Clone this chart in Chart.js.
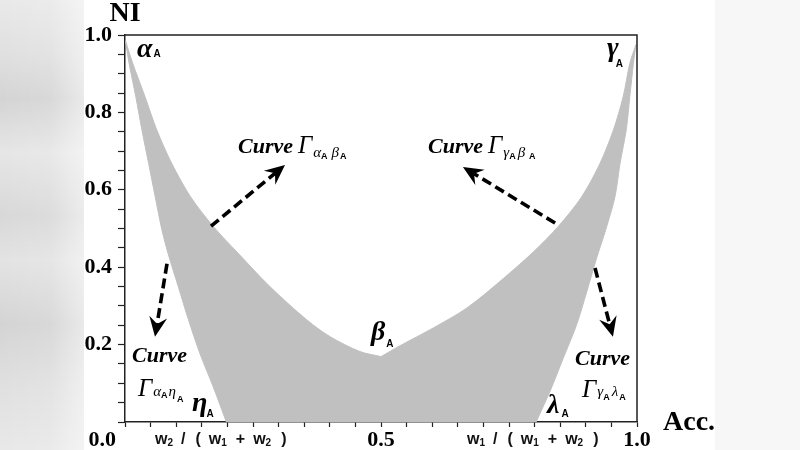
<!DOCTYPE html>
<html><head><meta charset="utf-8">
<script src="https://cdn.jsdelivr.net/npm/chart.js@4/dist/chart.umd.min.js"></script>
<style>
html,body{margin:0;padding:0;background:#fff;}
#wrap{position:relative;width:800px;height:450px;overflow:hidden;background:#fff;}
#bgL{position:absolute;left:0;top:0;width:84px;height:450px;
 background:linear-gradient(to right, rgba(255,255,255,0) 0%, rgba(255,255,255,0.1) 60%, rgba(255,255,255,0.5) 100%),
 linear-gradient(to bottom,#e9e9e9 0%,#e0e0e0 12%,#d4d4d4 22%,#e6e6e6 34%,#d8d8d8 48%,#e3e3e3 58%,#d4d4d4 72%,#e0e0e0 86%,#e8e8e8 100%);}
#bgR{position:absolute;left:715px;top:0;width:85px;height:450px;background:#f7f7f7;}
canvas{position:absolute;left:0;top:0;}
</style></head><body>
<div id="wrap"><div id="bgL"></div><div id="bgR"></div><canvas id="c" width="800" height="450"></canvas></div>
<script>
// ---- data ----
// Curve Γ(αA βA): upper-left boundary, from αA to βA
const gammaAlphaBetaAcc = [0.001, 0.015, 0.039, 0.062, 0.091, 0.128, 0.172, 0.221, 0.283, 0.355, 0.400, 0.459, 0.500];
const gammaAlphaBetaNI  = [0.985, 0.927, 0.841, 0.755, 0.669, 0.582, 0.506, 0.436, 0.350, 0.264, 0.221, 0.182, 0.169];
// Curve Γ(γA βA): upper-right boundary, from βA to γA
const gammaGammaBetaAcc = [0.500, 0.537, 0.602, 0.667, 0.732, 0.798, 0.846, 0.892, 0.928, 0.954, 0.973, 0.986, 0.998];
const gammaGammaBetaNI  = [0.169, 0.197, 0.243, 0.294, 0.363, 0.440, 0.505, 0.582, 0.669, 0.755, 0.841, 0.927, 0.975];
// Curve Γ(γA λA): lower-right boundary, from γA to λA
const gammaGammaLambdaAcc = [0.998, 0.993, 0.986, 0.979, 0.967, 0.957, 0.939, 0.921, 0.902, 0.882, 0.856, 0.830, 0.803];
const gammaGammaLambdaNI  = [0.975, 0.927, 0.841, 0.755, 0.669, 0.582, 0.497, 0.423, 0.337, 0.251, 0.165, 0.079, 0.000];
// Curve Γ(αA ηA): lower-left boundary, from αA to ηA
const gammaAlphaEtaAcc = [0.001, 0.008, 0.021, 0.033, 0.046, 0.059, 0.072, 0.084, 0.104, 0.124, 0.146, 0.172, 0.198];
const gammaAlphaEtaNI  = [0.985, 0.927, 0.841, 0.755, 0.669, 0.582, 0.497, 0.436, 0.350, 0.264, 0.178, 0.092, 0.000];
// tick labels
const xTickValues = [0.5, 1.0];
const xTickText   = ['0.5', '1.0'];
const yTickValues = [0.2, 0.4, 0.6, 0.8, 1.0];
const yTickText   = ['0.2', '0.4', '0.6', '0.8', '1.0'];
const cornerTickText = '0.0';
const yAxisTitle = 'NI';
const xAxisTitle = 'Acc.';

// ---- build closed region αA → βA → γA → λA → ηA → αA ----
// each curve keeps its own end points, so corners (βA, γA, λA, ηA) stay sharp under tension
function pts(xs, ys) { return xs.map((x, i) => ({x, y: ys[i]})); }
const lowerRight = pts(gammaGammaLambdaAcc, gammaGammaLambdaNI);
const lowerLeft = pts(gammaAlphaEtaAcc, gammaAlphaEtaNI).reverse();
const region = [
  ...pts(gammaAlphaBetaAcc, gammaAlphaBetaNI),
  ...pts(gammaGammaBetaAcc, gammaGammaBetaNI),
  ...lowerRight, lowerRight[lowerRight.length - 1],
  lowerLeft[0], ...lowerLeft
];

const SERIF = '"Liberation Serif","Times New Roman",serif';
const SANS = '"Liberation Sans",Arial,sans-serif';

function lookup(vals, texts, v) {
  for (let i = 0; i < vals.length; i++) if (Math.abs(vals[i] - v) < 1e-6) return texts[i];
  return '';
}

function drawRuns(ctx, x, y, runs) {
  let cx = x;
  for (const r of runs) {
    cx += r.dx || 0;
    ctx.font = r.f;
    ctx.fillText(r.t, cx, y + (r.dy || 0));
    cx += ctx.measureText(r.t).width;
  }
}

function arrow(ctx, x1, y1, x2, y2) {
  const a = Math.atan2(y2 - y1, x2 - x1);
  const ux = Math.cos(a), uy = Math.sin(a), px = -uy, py = ux;
  const L = 20, W = 9, N = 7;
  const bx = x2 - ux * (L - N), by = y2 - uy * (L - N);
  ctx.save();
  ctx.strokeStyle = '#000'; ctx.fillStyle = '#000';
  ctx.lineWidth = 3.6; ctx.setLineDash([10, 5]); ctx.lineCap = 'butt';
  ctx.beginPath(); ctx.moveTo(x1, y1); ctx.lineTo(bx, by); ctx.stroke();
  ctx.setLineDash([]);
  const kx = x2 - ux * L, ky = y2 - uy * L;
  ctx.beginPath();
  ctx.moveTo(x2, y2);
  ctx.lineTo(kx + px * W, ky + py * W);
  ctx.lineTo(bx, by);
  ctx.lineTo(kx - px * W, ky - py * W);
  ctx.closePath(); ctx.fill();
  ctx.restore();
}

const decor = {
  id: 'decor',
  afterDraw(chart) {
    const {ctx, chartArea: ca, scales: {x, y}} = chart;
    const X = v => x.getPixelForValue(v), Y = v => y.getPixelForValue(v);
    ctx.save();
    // frame top & right
    ctx.strokeStyle = '#222'; ctx.lineWidth = 1.5;
    ctx.beginPath(); ctx.moveTo(ca.left, ca.top); ctx.lineTo(ca.right, ca.top); ctx.lineTo(ca.right, ca.bottom); ctx.stroke();

    ctx.fillStyle = '#000'; ctx.textAlign = 'left'; ctx.textBaseline = 'alphabetic';
    const G = `italic bold 28px ${SERIF}`, S = `bold 10px ${SANS}`;
    // point labels
    drawRuns(ctx, X(0.0234), Y(0.943), [{t:'α', f:G}, {t:'A', f:S, dx:1}]);
    drawRuns(ctx, X(0.9414), Y(0.9458), [{t:'γ', f:G}, {t:'A', f:S, dx:-3, dy:11}]);
    drawRuns(ctx, X(0.4805), Y(0.2125), [{t:'β', f:G}, {t:'A', f:S, dx:1, dy:7}]);
    drawRuns(ctx, X(0.1309), Y(0.0292), [{t:'η', f:G}, {t:'A', f:S, dx:-1, dy:6}]);
    drawRuns(ctx, X(0.8242), Y(0.0240), [{t:'λ', f:G}, {t:'A', f:S, dx:2, dy:4}]);

    const C = `italic bold 22px ${SERIF}`, GM = `italic 25px ${SERIF}`, gs = `italic 15px ${SERIF}`, As = `bold 9px ${SANS}`;
    drawRuns(ctx, X(0.2207), Y(0.6953), [{t:'Curve', f:C}, {t:'Γ', f:GM, dx:5},
      {t:'α', f:gs, dx:1, dy:4}, {t:'A', f:As, dy:6}, {t:'β', f:gs, dx:4, dy:4}, {t:'A', f:As, dx:1, dy:6}]);
    drawRuns(ctx, X(0.5918), Y(0.6953), [{t:'Curve', f:C}, {t:'Γ', f:GM, dx:5},
      {t:'γ', f:gs, dx:1, dy:4}, {t:'A', f:As, dy:6}, {t:'β', f:gs, dx:2, dy:4}, {t:'A', f:As, dx:4, dy:6}]);
    drawRuns(ctx, X(0.0137), Y(0.1557), [{t:'Curve', f:C}]);
    drawRuns(ctx, X(0.0254), Y(0.0681), [{t:'Γ', f:GM},
      {t:'α', f:gs, dx:1, dy:0}, {t:'A', f:As, dy:2}, {t:'η', f:gs, dx:1, dy:0}, {t:'A', f:As, dx:1, dy:6}]);
    drawRuns(ctx, X(0.8789), Y(0.1480), [{t:'Curve', f:C}]);
    drawRuns(ctx, X(0.8926), Y(0.0655), [{t:'Γ', f:GM},
      {t:'γ', f:gs, dx:1, dy:-1}, {t:'A', f:As, dy:3}, {t:'λ', f:gs, dx:2, dy:-1}, {t:'A', f:As, dx:1, dy:3}]);

    // arrows
    arrow(ctx, X(0.168), Y(0.506), X(0.3125), Y(0.664));
    arrow(ctx, X(0.840), Y(0.514), X(0.660), Y(0.659));
    arrow(ctx, X(0.082), Y(0.409), X(0.0586), Y(0.220));
    arrow(ctx, X(0.918), Y(0.398), X(0.953), Y(0.220));

    // x-axis weight labels
    const W = `bold 16px ${SANS}`, Ws = `bold 10px ${SANS}`;
    ctx.fillStyle = '#111';
    const wl = (a, b, c) => [{t:'w', f:W}, {t:a, f:Ws, dy:2}, {t:'/', f:W, dx:8}, {t:'(', f:W, dx:10},
      {t:'w', f:W, dx:8}, {t:b, f:Ws, dy:2}, {t:'+', f:W, dx:9}, {t:'w', f:W, dx:8}, {t:c, f:Ws, dy:2}, {t:')', f:W, dx:10}];
    drawRuns(ctx, X(0.0586), ca.bottom + 22, wl('2', '1', '2'));
    drawRuns(ctx, X(0.668), ca.bottom + 22, wl('1', '1', '2'));

    // corner 0.0 label
    ctx.fillStyle = '#000';
    ctx.font = `bold 22px ${SERIF}`; ctx.textAlign = 'right'; ctx.textBaseline = 'middle';
    ctx.fillText(cornerTickText, ca.left - 9, ca.bottom + 18);
    // axis titles
    ctx.font = `bold 28px ${SERIF}`; ctx.textAlign = 'center'; ctx.textBaseline = 'alphabetic';
    ctx.fillText(yAxisTitle, ca.left, ca.top - 14);
    ctx.textAlign = 'left';
    ctx.fillText(xAxisTitle, ca.right + 26, ca.bottom + 8);
    ctx.restore();
  }
};

new Chart(document.getElementById('c'), {
  type: 'scatter',
  data: { datasets: [{
    data: region, showLine: true, fill: 'shape', tension: 0.3,
    backgroundColor: '#c0c0c0', borderColor: '#c0c0c0', borderWidth: 1, pointRadius: 0
  }]},
  options: {
    responsive: false, animation: false,
    layout: { padding: { left: 0, top: 35, right: 163, bottom: 0 } },
    plugins: { legend: { display: false }, tooltip: { enabled: false } },
    scales: {
      x: {
        type: 'linear', min: 0, max: 1, position: 'bottom',
        afterFit: s => { s.height = 28; },
        border: { display: true, color: '#222', width: 1.5 },
        grid: { drawOnChartArea: false, drawTicks: true, tickLength: 5, tickColor: '#222', tickWidth: 1.2 },
        ticks: { stepSize: 0.05, autoSkip: false, maxRotation: 0, padding: 0, color: '#000',
          font: { family: SERIF, size: 22, weight: 'bold' },
          callback: v => lookup(xTickValues, xTickText, v) }
      },
      y: {
        type: 'linear', min: 0, max: 1, position: 'left',
        afterFit: s => { s.width = 125; },
        border: { display: true, color: '#222', width: 1.5 },
        grid: { drawOnChartArea: false, drawTicks: true, tickLength: 7, tickColor: '#222', tickWidth: 1.2 },
        ticks: { stepSize: 0.05, autoSkip: false, padding: 6, color: '#000',
          font: { family: SERIF, size: 22, weight: 'bold' },
          callback: v => lookup(yTickValues, yTickText, v) }
      }
    }
  },
  plugins: [decor]
});
</script>
</body></html>
